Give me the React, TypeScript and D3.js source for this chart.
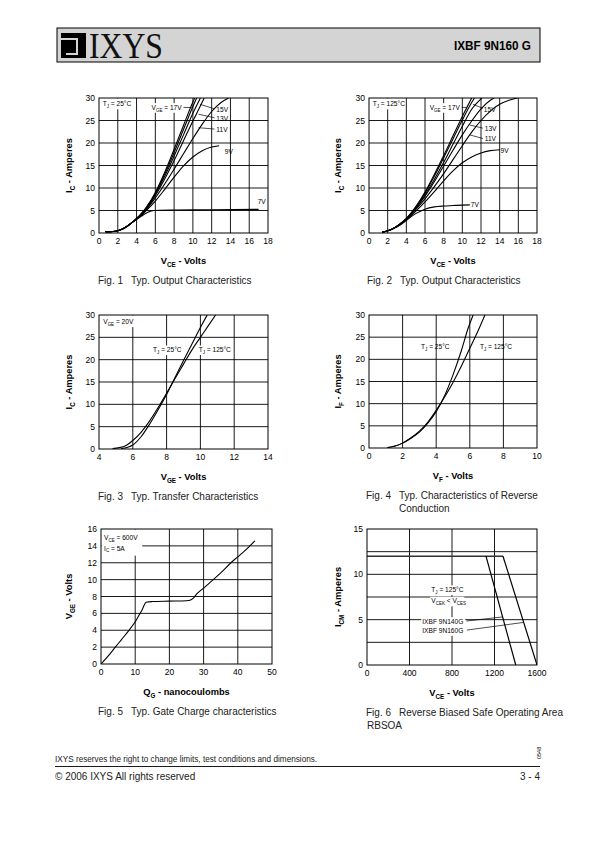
import React from "react";
import * as d3 from "d3";

type Pt = [number, number];
const SANS = "'Liberation Sans', Arial, Helvetica, sans-serif";
const SERIF = "'Liberation Serif', 'Times New Roman', serif";

// ---------------- Fig. 1 : output characteristics, Tj = 25°C ----------------
const fig1XTicks = [0, 2, 4, 6, 8, 10, 12, 14, 16, 18];
const fig1YTicks = [0, 5, 10, 15, 20, 25, 30];
const fig1VgeExtra: Pt[] = [[0.7, 0.3], [1.5, 0.35], [2, 0.5], [2.5, 0.9], [3, 1.5], [3.5, 2.3], [4, 3.2], [4.5, 4.3], [5, 5.6], [6, 9.0], [7, 13.5], [8, 18.6], [9, 23.9], [10, 29.1], [10.2, 30]];
const fig1Vge17: Pt[] = [[0.7, 0.3], [1.5, 0.35], [2, 0.5], [2.5, 0.9], [3, 1.5], [3.5, 2.3], [4, 3.2], [4.5, 4.25], [5, 5.5], [6, 8.8], [7, 13.1], [8, 17.9], [9, 23.0], [10, 28.1], [10.4, 30]];
const fig1Vge15: Pt[] = [[0.7, 0.3], [1.5, 0.35], [2, 0.5], [2.5, 0.9], [3, 1.5], [3.5, 2.3], [4, 3.2], [4.5, 4.2], [5, 5.4], [6, 8.6], [7, 12.6], [8, 17.1], [9, 21.8], [10, 26.6], [10.8, 30]];
const fig1Vge13: Pt[] = [[0.7, 0.3], [1.5, 0.35], [2, 0.5], [2.5, 0.9], [3, 1.5], [3.5, 2.3], [4, 3.2], [4.5, 4.1], [5, 5.25], [6, 8.3], [7, 12.0], [8, 16.1], [9, 20.5], [10, 24.9], [11, 29.1], [11.2, 30]];
const fig1Vge11: Pt[] = [[0.7, 0.3], [1.5, 0.35], [2, 0.5], [2.5, 0.9], [3, 1.5], [3.5, 2.3], [4, 3.2], [4.5, 4.0], [5, 5.1], [6, 7.8], [7, 10.9], [8, 14.2], [9, 17.6], [10, 21.0], [11, 24.2], [12, 27.0], [13, 29.0], [13.8, 30]];
const fig1Vge9: Pt[] = [[0.7, 0.3], [1.5, 0.35], [2, 0.5], [2.5, 0.9], [3, 1.5], [3.5, 2.3], [4, 3.1], [4.5, 3.9], [5, 4.9], [6, 7.1], [7, 9.7], [8, 12.4], [9, 14.9], [10, 16.9], [11, 18.3], [12, 19.1], [12.8, 19.4]];
const fig1Vge7: Pt[] = [[0.7, 0.3], [1.5, 0.35], [2, 0.5], [2.5, 0.9], [3, 1.5], [3.5, 2.3], [4, 3.0], [4.5, 3.7], [5, 4.4], [5.5, 4.85], [6, 5.0], [6.5, 5.05], [8, 5.1], [12, 5.15], [17, 5.25]];

// ---------------- Fig. 2 : output characteristics, Tj = 125°C ----------------
const fig2XTicks = [0, 2, 4, 6, 8, 10, 12, 14, 16, 18];
const fig2YTicks = [0, 5, 10, 15, 20, 25, 30];
const fig2Vge17: Pt[] = [[1.4, 0.2], [2, 0.5], [2.5, 0.9], [3, 1.5], [3.5, 2.3], [4, 3.2], [5, 5.8], [6, 9.1], [7, 13.0], [8, 17.2], [9, 21.6], [10, 25.9], [11, 30]];
const fig2VgeExtra: Pt[] = [[1.4, 0.2], [2, 0.5], [2.5, 0.9], [3, 1.5], [3.5, 2.3], [4, 3.2], [5, 5.7], [6, 8.9], [7, 12.6], [8, 16.7], [9, 20.9], [10, 25.1], [11, 29.0], [11.3, 30]];
const fig2Vge15: Pt[] = [[1.4, 0.2], [2, 0.5], [2.5, 0.9], [3, 1.5], [3.5, 2.3], [4, 3.2], [5, 5.55], [6, 8.5], [7, 11.9], [8, 15.7], [9, 19.7], [10, 23.7], [11, 27.5], [12.1, 30]];
const fig2Vge13: Pt[] = [[1.4, 0.2], [2, 0.5], [2.5, 0.9], [3, 1.5], [3.5, 2.3], [4, 3.1], [5, 5.4], [6, 8.2], [7, 11.4], [8, 14.9], [9, 18.4], [10, 21.8], [11, 24.9], [12, 27.6], [13, 29.5], [13.4, 30]];
const fig2Vge11: Pt[] = [[1.4, 0.2], [2, 0.5], [2.5, 0.9], [3, 1.5], [3.5, 2.2], [4, 3.0], [5, 5.2], [6, 7.6], [7, 10.3], [8, 13.2], [9, 16.3], [10, 19.4], [11, 22.4], [12, 25.0], [13, 27.1], [14, 28.6], [15, 29.5], [15.9, 30]];
const fig2Vge9: Pt[] = [[1.4, 0.2], [2, 0.5], [2.5, 0.9], [3, 1.4], [3.5, 2.1], [4, 2.9], [5, 4.8], [6, 6.9], [7, 9.2], [8, 11.6], [9, 13.8], [10, 15.6], [11, 16.9], [12, 17.8], [13, 18.3], [14, 18.5]];
const fig2Vge7: Pt[] = [[1.4, 0.2], [2, 0.5], [2.5, 0.9], [3, 1.4], [3.5, 2.0], [4, 2.8], [5, 4.3], [6, 5.3], [7, 5.8], [8, 6.0], [9, 6.1], [10, 6.2], [10.8, 6.25]];

// ---------------- Fig. 3 : transfer characteristics ----------------
const fig3XTicks = [4, 6, 8, 10, 12, 14];
const fig3YTicks = [0, 5, 10, 15, 20, 25, 30];
const fig3Tj125: Pt[] = [[4.8, 0.1], [5.2, 0.3], [5.6, 0.8], [6, 1.9], [6.5, 3.8], [7, 6.3], [7.5, 9.3], [8, 12.5], [8.5, 15.8], [9, 19.0], [9.5, 22.2], [10, 25.0], [10.5, 27.8], [10.9, 30]];
const fig3Tj25: Pt[] = [[5.3, 0.1], [5.7, 0.4], [6, 0.9], [6.5, 2.8], [7, 5.6], [7.5, 8.8], [8, 12.2], [8.5, 16.0], [9, 19.8], [9.5, 23.5], [10, 27.2], [10.4, 30]];

// ---------------- Fig. 4 : reverse conduction ----------------
const fig4XTicks = [0, 2, 4, 6, 8, 10];
const fig4YTicks = [0, 5, 10, 15, 20, 25, 30];
const fig4Tj25: Pt[] = [[1.1, 0.1], [1.5, 0.4], [2, 1.1], [2.5, 2.2], [3, 3.6], [3.5, 5.6], [4, 8.2], [4.5, 11.8], [5, 16.5], [5.5, 22.0], [5.9, 27.0], [6.2, 30]];
const fig4Tj125: Pt[] = [[1.1, 0.1], [1.5, 0.4], [2, 1.1], [2.5, 2.3], [3, 3.8], [3.5, 5.8], [4, 8.5], [4.5, 11.5], [5, 14.8], [5.5, 18.5], [6, 22.5], [6.5, 26.5], [6.9, 30]];

// ---------------- Fig. 5 : gate charge ----------------
const fig5XTicks = [0, 10, 20, 30, 40, 50];
const fig5YTicks = [0, 2, 4, 6, 8, 10, 12, 14, 16];
const fig5Vge: Pt[] = [[0, 0], [2, 0.9], [4, 1.9], [6, 2.9], [8, 3.9], [10, 5.0], [11, 5.7], [12, 6.4], [13, 7.25], [13.5, 7.35], [15, 7.4], [20, 7.45], [25, 7.5], [26, 7.55], [27, 7.8], [28, 8.3], [30, 9.0], [32, 9.7], [35, 10.8], [38, 12.0], [40, 12.7], [42, 13.4], [45, 14.6]];

// ---------------- Fig. 6 : RBSOA ----------------
const fig6XTicks = [0, 400, 800, 1200, 1600];
const fig6YTicks = [0, 5, 10, 15];
const fig6YGrid = [2.5, 5, 7.5, 10, 12.5];
const fig6Flat: Pt[] = [[0, 12], [1280, 12]];
const fig6N140G: Pt[] = [[1120, 12], [1400, 0]];
const fig6N160G: Pt[] = [[1280, 12], [1600, 0]];

// ---------------------------------------------------------------------------
type Part = string | { s: string };
type Lin = d3.ScaleLinear<number, number>;

function Rich(props: { parts: Part[]; size: number; x: number; y: number; anchor?: string; weight?: string }) {
  const { parts, size, x, y, anchor = "start", weight = "normal" } = props;
  const sub = size * 0.68;
  const shift = size * 0.3;
  let down = false;
  const nodes = parts.map((p, i) => {
    if (typeof p === "string") {
      const dy = down ? -shift : 0;
      down = false;
      return <tspan key={i} dy={dy}>{p}</tspan>;
    }
    const dy = down ? 0 : shift;
    down = true;
    return <tspan key={i} dy={dy} fontSize={sub}>{p.s}</tspan>;
  });
  return (
    <text x={x} y={y} fontSize={size} fontFamily={SANS} fontWeight={weight} textAnchor={anchor as any} fill="#000">
      {nodes}
    </text>
  );
}

interface Box { l: number; r: number; t: number; b: number }
interface Curve { pts: Pt[]; w?: number; color?: string; linear?: boolean }

function Panel(props: {
  id: string; box: Box; xDomain: [number, number]; yDomain: [number, number];
  xTicks: number[]; yTicks: number[]; xGrid: number[]; yGrid: number[];
  curves: Curve[];
  xTitle: Part[]; yTitle: Part[]; yTitleX: number;
  caption: string[]; captionX: number;
  notes?: (x: Lin, y: Lin) => React.ReactNode;
}) {
  const { id, box, xDomain, yDomain, xTicks, yTicks, xGrid, yGrid, curves } = props;
  const x = d3.scaleLinear().domain(xDomain).range([box.l, box.r]);
  const y = d3.scaleLinear().domain(yDomain).range([box.b, box.t]);
  const cx = (box.l + box.r) / 2;
  const cy = (box.t + box.b) / 2;
  return (
    <g>
      <defs>
        <clipPath id={id}>
          <rect x={box.l} y={box.t} width={box.r - box.l} height={box.b - box.t} />
        </clipPath>
      </defs>
      {xGrid.map((v) => (
        <line key={"xg" + v} x1={x(v)} x2={x(v)} y1={box.t} y2={box.b} stroke="#000" strokeWidth={0.9} />
      ))}
      {yGrid.map((v) => (
        <line key={"yg" + v} x1={box.l} x2={box.r} y1={y(v)} y2={y(v)} stroke="#000" strokeWidth={0.9} />
      ))}
      <g clipPath={`url(#${id})`}>
        {curves.map((c, i) => {
          const gen = d3.line<Pt>().x((d) => x(d[0])).y((d) => y(d[1]))
            .curve(c.linear ? d3.curveLinear : d3.curveMonotoneX);
          return <path key={i} d={gen(c.pts) || ""} fill="none" stroke={c.color || "#000"} strokeWidth={c.w || 1.1} strokeLinejoin="round" />;
        })}
      </g>
      {props.notes && props.notes(x, y)}
      <rect x={box.l} y={box.t} width={box.r - box.l} height={box.b - box.t} fill="none" stroke="#000" strokeWidth={1} />
      {xTicks.map((v) => (
        <text key={"xt" + v} x={x(v)} y={box.b + 11} fontSize={8.5} fontFamily={SANS} textAnchor="middle">{v}</text>
      ))}
      {yTicks.map((v) => (
        <text key={"yt" + v} x={box.l - 4} y={y(v) + 3} fontSize={8.5} fontFamily={SANS} textAnchor="end">{v}</text>
      ))}
      <Rich parts={props.xTitle} size={9.3} x={cx} y={box.b + 31} anchor="middle" weight="bold" />
      <g transform={`translate(${props.yTitleX},${cy}) rotate(-90)`}>
        <Rich parts={props.yTitle} size={9.3} x={0} y={0} anchor="middle" weight="bold" />
      </g>
      <text x={props.captionX} y={box.b + 51} fontSize={10} fontFamily={SANS} fill="#222">Fig. {id.replace("f", "")}</text>
      {props.caption.map((c, i) => (
        <text key={i} x={i === 0 || id !== "f6" ? props.captionX + 33 : props.captionX + 1} y={box.b + 51 + i * 12.5} fontSize={10} fontFamily={SANS} fill="#222">{c}</text>
      ))}
    </g>
  );
}

function Label(props: { x: number; y: number; parts: Part[]; size?: number; bg?: number }) {
  const size = props.size || 6.6;
  return (
    <g>
      {props.bg ? <rect x={props.x - 1} y={props.y - size} width={props.bg} height={size + 3} fill="#fff" /> : null}
      <Rich parts={props.parts} size={size} x={props.x} y={props.y} />
    </g>
  );
}

function Leader(props: { x1: number; y1: number; x2: number; y2: number }) {
  return <line x1={props.x1} y1={props.y1} x2={props.x2} y2={props.y2} stroke="#000" strokeWidth={0.7} />;
}

export default function App() {
  const ygrid30 = [5, 10, 15, 20, 25];
  return (
    <svg width={595} height={842} style={{ position: "absolute", left: 0, top: 0, background: "#fff" }} xmlns="http://www.w3.org/2000/svg">
      <rect x={0} y={0} width={595} height={842} fill="#fff" />
      {/* header */}
      <rect x={57} y={28} width={483} height={34} fill="#d4d4d4" stroke="#000" strokeWidth={1} />
      <rect x={61} y={33} width={25} height={25} fill="#000" />
      <rect x={61} y={38} width={15} height={2} fill="#d4d4d4" />
      <rect x={76} y={38} width={2} height={15} fill="#d4d4d4" />
      <rect x={66} y={53} width={12} height={2} fill="#d4d4d4" />
      <text x={89} y={58} fontSize={35} fontFamily={SERIF} textLength={74} lengthAdjust="spacingAndGlyphs" fill="#111">IXYS</text>
      <text x={531} y={50} fontSize={13.5} fontFamily={SANS} fontWeight="bold" textAnchor="end" textLength={77} lengthAdjust="spacingAndGlyphs">IXBF 9N160 G</text>

      {/* Fig 1 */}
      <Panel id="f1" box={{ l: 99, r: 268, t: 98, b: 233 }} xDomain={[0, 18]} yDomain={[0, 30]}
        xTicks={fig1XTicks} yTicks={fig1YTicks} xGrid={fig1XTicks.slice(1, -1)} yGrid={ygrid30}
        curves={[{ pts: fig1VgeExtra }, { pts: fig1Vge17 }, { pts: fig1Vge15 }, { pts: fig1Vge13 }, { pts: fig1Vge11 }, { pts: fig1Vge9 }, { pts: fig1Vge7 }]}
        xTitle={["V", { s: "CE" }, " - Volts"]} yTitle={["I", { s: "C" }, " - Amperes"]} yTitleX={72}
        caption={["Typ. Output Characteristics"]} captionX={98}
        notes={(x, y) => (
          <g>
            <rect x={x(0) + 0.5} y={y(30) + 0.5} width={x(3.3) - x(0)} height={y(27.6) - y(30)} fill="#fff" />
            <Label x={x(0.4)} y={y(28.2)} parts={["T", { s: "J" }, " = 25°C"]} />
            <Label x={x(5.6)} y={y(27.4)} parts={["V", { s: "GE" }, " = 17V"]} bg={32} />
            <Leader x1={x(9.0)} y1={y(27.9)} x2={x(9.9)} y2={y(27.9)} />
            <Leader x1={x(10.75)} y1={y(28.6)} x2={x(12.3)} y2={y(27.6)} />
            <Label x={x(12.5)} y={y(27.0)} parts={["15V"]} />
            <Leader x1={x(10.6)} y1={y(26.4)} x2={x(12.3)} y2={y(25.6)} />
            <Label x={x(12.5)} y={y(25.0)} parts={["13V"]} />
            <Leader x1={x(10.6)} y1={y(23.4)} x2={x(12.3)} y2={y(23.1)} />
            <Label x={x(12.5)} y={y(22.5)} parts={["11V"]} />
            <Label x={x(13.4)} y={y(17.6)} parts={["9V"]} />
            <Label x={x(16.9)} y={y(6.4)} parts={["7V"]} />
          </g>
        )}
      />

      {/* Fig 2 */}
      <Panel id="f2" box={{ l: 369, r: 537, t: 98, b: 233 }} xDomain={[0, 18]} yDomain={[0, 30]}
        xTicks={fig2XTicks} yTicks={fig2YTicks} xGrid={fig2XTicks.slice(1, -1)} yGrid={ygrid30}
        curves={[{ pts: fig2Vge17 }, { pts: fig2VgeExtra }, { pts: fig2Vge15 }, { pts: fig2Vge13 }, { pts: fig2Vge11 }, { pts: fig2Vge9 }, { pts: fig2Vge7 }]}
        xTitle={["V", { s: "CE" }, " - Volts"]} yTitle={["I", { s: "C" }, " - Amperes"]} yTitleX={341}
        caption={["Typ. Output Characteristics"]} captionX={367}
        notes={(x, y) => (
          <g>
            <rect x={x(0) + 0.5} y={y(30) + 0.5} width={x(3.8) - x(0)} height={y(27.6) - y(30)} fill="#fff" />
            <Label x={x(0.4)} y={y(28.2)} parts={["T", { s: "J" }, " = 125°C"]} />
            <Label x={x(6.5)} y={y(27.4)} parts={["V", { s: "GE" }, " = 17V"]} bg={32} />
            <Leader x1={x(9.95)} y1={y(27.9)} x2={x(10.5)} y2={y(27.9)} />
            <Leader x1={x(11.15)} y1={y(28.6)} x2={x(12.2)} y2={y(27.7)} />
            <Label x={x(12.3)} y={y(27.0)} parts={["15V"]} />
            <Leader x1={x(10.8)} y1={y(24.0)} x2={x(12.2)} y2={y(23.3)} />
            <Label x={x(12.4)} y={y(22.7)} parts={["13V"]} />
            <Leader x1={x(10.8)} y1={y(21.8)} x2={x(12.2)} y2={y(21.0)} />
            <Label x={x(12.4)} y={y(20.4)} parts={["11V"]} />
            <Label x={x(14.1)} y={y(17.8)} parts={["9V"]} />
            <Label x={x(10.9)} y={y(5.7)} parts={["7V"]} />
          </g>
        )}
      />

      {/* Fig 3 */}
      <Panel id="f3" box={{ l: 99, r: 268, t: 315, b: 449 }} xDomain={[4, 14]} yDomain={[0, 30]}
        xTicks={fig3XTicks} yTicks={fig3YTicks} xGrid={fig3XTicks.slice(1, -1)} yGrid={ygrid30}
        curves={[{ pts: fig3Tj125 }, { pts: fig3Tj25 }]}
        xTitle={["V", { s: "GE" }, " - Volts"]} yTitle={["I", { s: "C" }, " - Amperes"]} yTitleX={72}
        caption={["Typ. Transfer Characteristics"]} captionX={98}
        notes={(x, y) => (
          <g>
            <rect x={x(4) + 0.5} y={y(30) + 0.5} width={x(6.3) - x(4)} height={y(27.4) - y(30)} fill="#fff" />
            <Label x={x(4.25)} y={y(28.0)} parts={["V", { s: "GE" }, " = 20V"]} />
            <Label x={x(7.2)} y={y(21.7)} parts={["T", { s: "J" }, " = 25°C"]} bg={30} />
            <Label x={x(9.9)} y={y(21.7)} parts={["T", { s: "J" }, " = 125°C"]} bg={34} />
          </g>
        )}
      />

      {/* Fig 4 */}
      <Panel id="f4" box={{ l: 369, r: 537, t: 315, b: 448 }} xDomain={[0, 10]} yDomain={[0, 30]}
        xTicks={fig4XTicks} yTicks={fig4YTicks} xGrid={fig4XTicks.slice(1, -1)} yGrid={ygrid30}
        curves={[{ pts: fig4Tj25 }, { pts: fig4Tj125 }]}
        xTitle={["V", { s: "F" }, " - Volts"]} yTitle={["I", { s: "F" }, " - Amperes"]} yTitleX={341}
        caption={["Typ. Characteristics of Reverse", "Conduction"]} captionX={366}
        notes={(x, y) => (
          <g>
            <Label x={x(3.1)} y={y(22.3)} parts={["T", { s: "J" }, " = 25°C"]} />
            <Label x={x(6.6)} y={y(22.3)} parts={["T", { s: "J" }, " = 125°C"]} />
          </g>
        )}
      />

      {/* Fig 5 */}
      <Panel id="f5" box={{ l: 101, r: 272, t: 529, b: 664 }} xDomain={[0, 50]} yDomain={[0, 16]}
        xTicks={fig5XTicks} yTicks={fig5YTicks} xGrid={fig5XTicks.slice(1, -1)} yGrid={fig5YTicks.slice(1, -1)}
        curves={[{ pts: fig5Vge }]}
        xTitle={["Q", { s: "G" }, " - nanocoulombs"]} yTitle={["V", { s: "GE" }, " - Volts"]} yTitleX={72}
        caption={["Typ. Gate Charge characteristics"]} captionX={98}
        notes={(x, y) => (
          <g>
            <rect x={x(0) + 0.5} y={y(16) + 0.5} width={x(11.9) - x(0)} height={y(12.9) - y(16)} fill="#fff" />
            <Label x={x(0.9)} y={y(14.75)} parts={["V", { s: "CE" }, " = 600V"]} />
            <Label x={x(0.9)} y={y(13.45)} parts={["I", { s: "C" }, "     = 5A"]} />
          </g>
        )}
      />

      {/* Fig 6 */}
      <Panel id="f6" box={{ l: 367, r: 537, t: 529, b: 665 }} xDomain={[0, 1600]} yDomain={[0, 15]}
        xTicks={fig6XTicks} yTicks={fig6YTicks} xGrid={fig6XTicks.slice(1, -1)} yGrid={fig6YGrid}
        curves={[{ pts: fig6Flat, linear: true, w: 1.6, color: "#333" }, { pts: fig6N140G, linear: true, w: 1.2 }, { pts: fig6N160G, linear: true, w: 1.2 }]}
        xTitle={["V", { s: "CE" }, "  - Volts"]} yTitle={["I", { s: "CM" }, " - Amperes"]} yTitleX={341}
        caption={["Reverse Biased Safe Operating Area", "RBSOA"]} captionX={366}
        notes={(x, y) => (
          <g>
            <Label x={x(605)} y={y(8.05)} parts={["T", { s: "J" }, " = 125°C"]} bg={28} />
            <Label x={x(605)} y={y(6.8)} parts={["V", { s: "CEK" }, " < V", { s: "CES" }]} bg={34} />
            <Label x={x(520)} y={y(4.55)} parts={["IXBF 9N140G"]} bg={44} />
            <Label x={x(520)} y={y(3.55)} parts={["IXBF 9N160G"]} bg={44} />
            <Leader x1={x(935)} y1={y(4.85)} x2={x(1276)} y2={y(5.3)} />
            <Leader x1={x(940)} y1={y(3.85)} x2={x(1475)} y2={y(4.7)} />
          </g>
        )}
      />

      {/* footer */}
      <text x={55} y={762} fontSize={8.2} fontFamily={SANS} fill="#222">IXYS reserves the right to change limits, test conditions and dimensions.</text>
      <g transform="translate(541,759) rotate(-90)">
        <text x={0} y={0} fontSize={5.5} fontFamily={SANS}>0548</text>
      </g>
      <line x1={55} x2={540} y1={766.5} y2={766.5} stroke="#000" strokeWidth={0.9} />
      <text x={55} y={780} fontSize={10} fontFamily={SANS} fill="#222">© 2006 IXYS All rights reserved</text>
      <text x={540} y={780} fontSize={10} fontFamily={SANS} textAnchor="end" fill="#222">3 - 4</text>
    </svg>
  );
}
